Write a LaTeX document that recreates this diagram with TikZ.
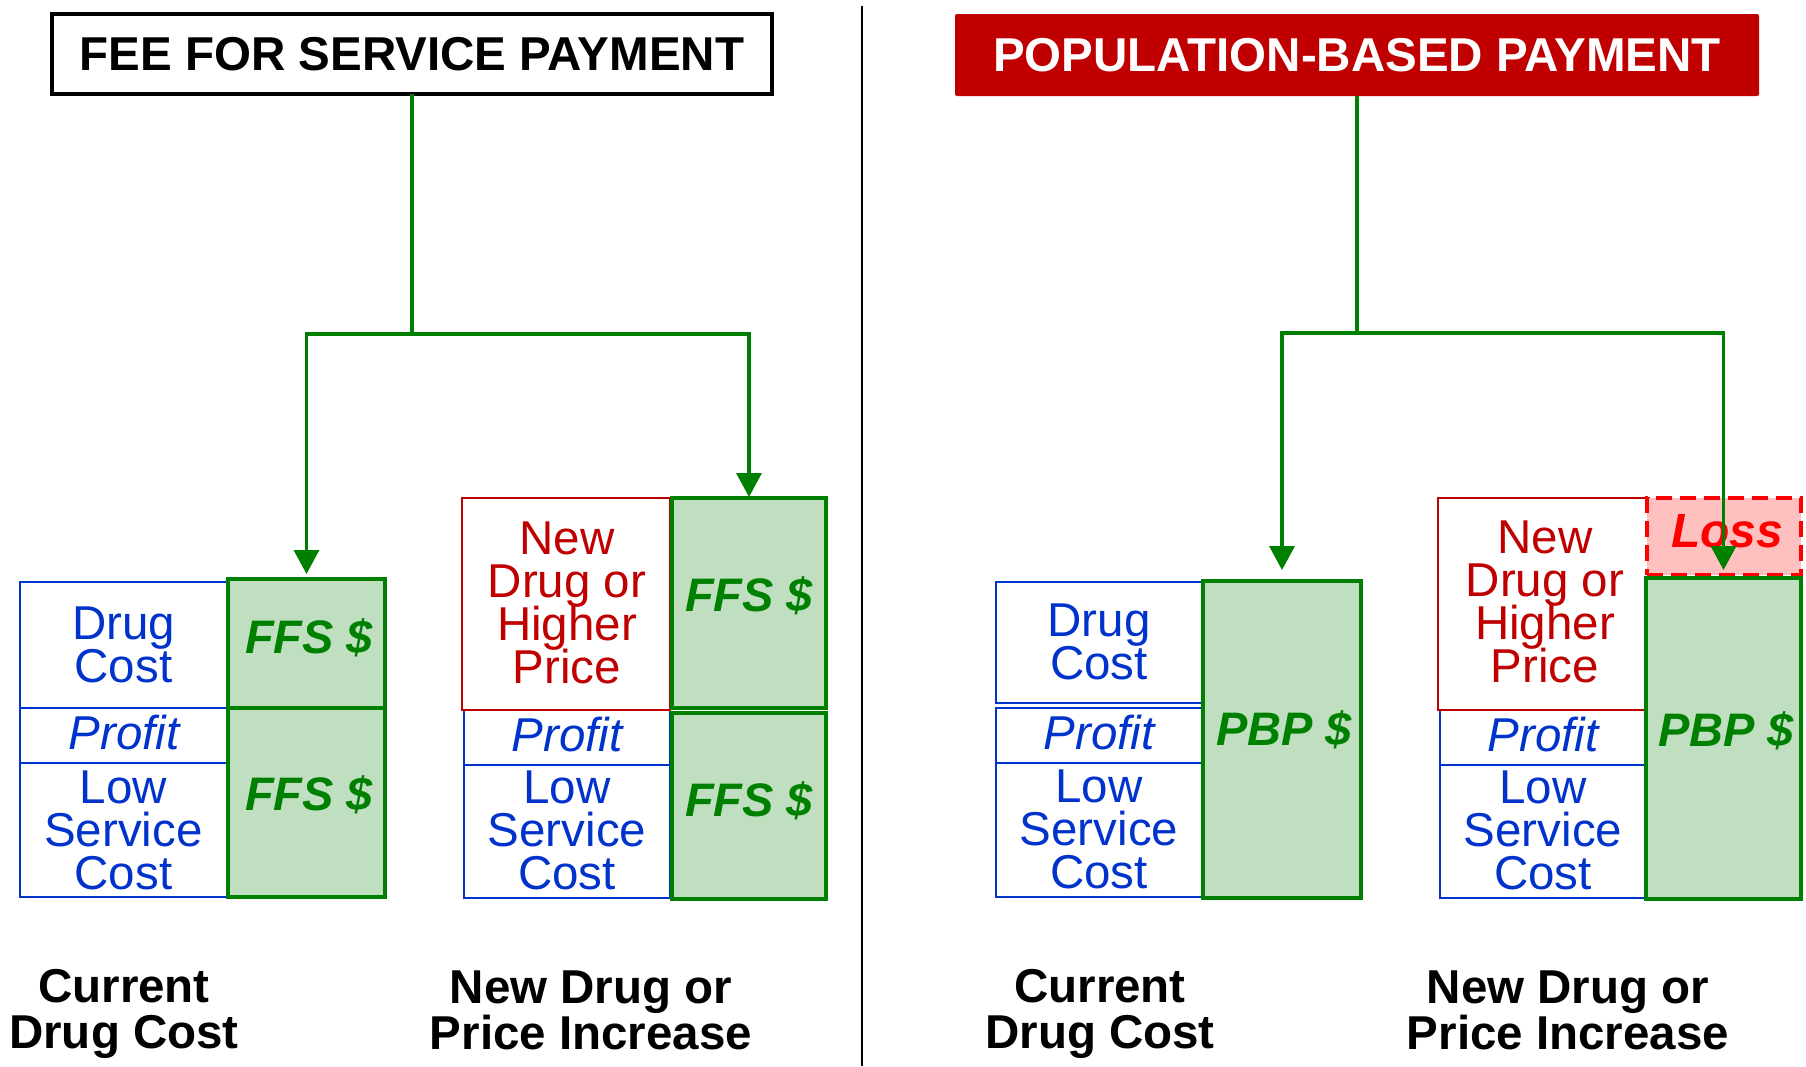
\documentclass[tikz,border=0pt]{standalone}
\usepackage{fontspec}
\setmainfont{Liberation Sans}
\usetikzlibrary{arrows.meta}
\definecolor{tblue}{HTML}{0033CC}
\definecolor{tred}{HTML}{C00000}
\definecolor{tgreen}{HTML}{008000}
\definecolor{gfill}{HTML}{C0DFC0}
\definecolor{lossfill}{HTML}{FFC0C0}
\definecolor{lossred}{HTML}{FF0000}
\tikzset{
  box/.style={anchor=north west, inner sep=0pt, outer sep=0pt, shape=rectangle},
  bluebox/.style={box, draw=tblue, line width=2pt},
  redbox/.style={box, draw=tred, line width=2pt},
  greenbox/.style={box, draw=tgreen, fill=gfill, line width=4.5pt},
  lossbox/.style={box, draw=lossred, fill=lossfill, line width=4pt, dash pattern=on 16pt off 8pt},
  txt/.style={anchor=center, inner sep=0pt, outer sep=0pt, align=center, font={\fontsize{47.5}{43}\selectfont\lineskiplimit=-100pt}},
  bluetxt/.style={txt, text=tblue},
  profittxt/.style={txt, text=tblue, font={\fontsize{47.5}{43}\selectfont\itshape}},
  redtxt/.style={txt, text=tred},
  greentxt/.style={txt, text=tgreen, font={\fontsize{47}{47}\selectfont\bfseries\itshape}},
  losstxt/.style={txt, text=lossred, font={\fontsize{48}{48}\selectfont\bfseries\itshape}},
  bottomtxt/.style={txt, text=black, font={\fontsize{47.5}{46}\selectfont\bfseries\lineskiplimit=-100pt}},
  ffstitle/.style={box, draw=black, fill=white, line width=4pt, font={\fontsize{47.5}{47}\selectfont\bfseries}},
  pbptitle/.style={box, fill=tred, text=white, rounded corners=2pt, font={\fontsize{47.5}{47}\selectfont\bfseries}},
  conn/.style={draw=tgreen, line width=3.5pt},
  arr/.style={conn, -{Triangle[width=25pt,length=24pt]}}
}
\begin{document}
\begin{tikzpicture}[x=1pt,y=-1pt]
\useasboundingbox (0,0) rectangle (1806,1066);
\fill[white] (0,0) rectangle (1806,1066);

% separator
\draw[black, line width=2pt] (862,6) -- (862,1066);

% titles
\node[ffstitle, minimum width=720pt, minimum height=80pt] (fft) at (52,14) {FEE FOR SERVICE PAYMENT};
\node[pbptitle, minimum width=804pt, minimum height=82pt] (pbt) at (955,14) {POPULATION-BASED PAYMENT};

% panel 1
\node[bluebox, minimum width=207pt, minimum height=126pt] (p1drug) at (20,582) {};
\node[bluebox, minimum width=207pt, minimum height=55pt] (p1profit) at (20,708) {};
\node[bluebox, minimum width=207pt, minimum height=134pt] (p1low) at (20,763) {};
\node[greenbox, minimum width=157pt, minimum height=129pt] (p1g1) at (228,579) {};
\node[greenbox, minimum width=157pt, minimum height=189pt] (p1g2) at (228,708) {};
\node[bluetxt] at (p1drug.center) {Drug\\Cost};
\node[profittxt] at (124,733) {Profit};
\node[bluetxt] at (p1low.center) {Low\\Service\\Cost};
\node[greentxt] at (309,638) {FFS \$};
\node[greentxt] at (309,795) {FFS \$};

% panel 2
\node[bluebox, minimum width=206pt, minimum height=55pt] (p2profit) at (464,710) {};
\node[bluebox, minimum width=206pt, minimum height=133pt] (p2low) at (464,765) {};
\node[redbox, minimum width=208pt, minimum height=212pt] (p2new) at (462,498) {};
\node[greenbox, minimum width=154pt, minimum height=210pt] (p2g1) at (672,498) {};
\node[greenbox, minimum width=154pt, minimum height=186pt] (p2g2) at (672,713) {};
\node[redtxt] at (567,603) {New\\Drug or\\Higher\\Price};
\node[profittxt] at (567,735) {Profit};
\node[bluetxt] at (567,830) {Low\\Service\\Cost};
\node[greentxt] at (749,596) {FFS \$};
\node[greentxt] at (749,801) {FFS \$};

% panel 3
\node[bluebox, minimum width=206pt, minimum height=121pt] (p3drug) at (996,582) {};
\node[bluebox, minimum width=206pt, minimum height=55pt] (p3profit) at (996,708) {};
\node[bluebox, minimum width=206pt, minimum height=134pt] (p3low) at (996,763) {};
\node[greenbox, minimum width=158pt, minimum height=317pt] (p3g) at (1203,581) {};
\node[bluetxt] at (1099,642) {Drug\\Cost};
\node[profittxt] at (1099,733) {Profit};
\node[bluetxt] at (1099,829) {Low\\Service\\Cost};
\node[greentxt] at (1284,730) {PBP \$};

% panel 4
\node[bluebox, minimum width=206pt, minimum height=55pt] (p4profit) at (1440,710) {};
\node[bluebox, minimum width=206pt, minimum height=133pt] (p4low) at (1440,765) {};
\node[redbox, minimum width=211pt, minimum height=212pt] (p4new) at (1438,498) {};
\node[lossbox, minimum width=154pt, minimum height=77pt] (p4loss) at (1647,498) {};
\node[greenbox, minimum width=155pt, minimum height=321pt] (p4g) at (1646,578) {};
\node[redtxt] at (1545,602) {New\\Drug or\\Higher\\Price};
\node[profittxt] at (1543,735) {Profit};
\node[bluetxt] at (1543,830) {Low\\Service\\Cost};
\node[losstxt] at (1727,531) {Loss};
\node[greentxt] at (1726,731) {PBP \$};

% connectors
\coordinate (fj) at (412,334);
\coordinate (pj) at (1357,333);
\draw[conn] (fft.south) -- (fj);
\draw[arr, shorten >=5pt] (fj) -| (p1g1.north);
\draw[arr, shorten >=1pt] (fj) -| (p2g1.north);
\draw[conn] (pbt.south) -- (pj);
\draw[arr, shorten >=11pt] (pj) -| (p3g.north);
\draw[arr, shorten >=8pt] (pj) -| (p4g.north);

% bottom labels
\node[bottomtxt] at (124,1014) {Current\\Drug Cost};
\node[bottomtxt] at (591,1010) {New Drug or\\Price Increase};
\node[bottomtxt] at (1100,1014) {Current\\Drug Cost};
\node[bottomtxt] at (1568,1010) {New Drug or\\Price Increase};
\end{tikzpicture}
\end{document}
